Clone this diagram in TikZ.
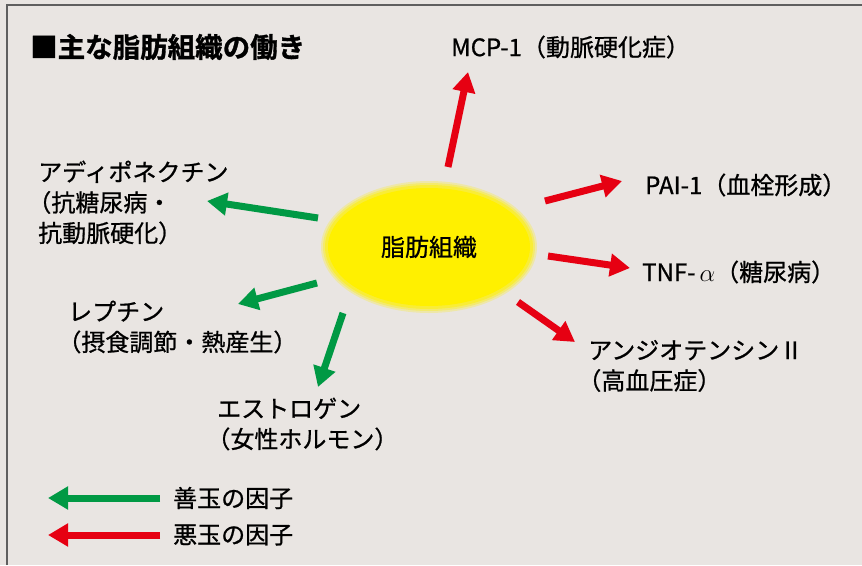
\documentclass[tikz,border=0pt]{standalone}
\usepackage{fontspec}
\setmainfont{Noto Sans CJK JP}[BoldFont={Noto Sans CJK JP Bold}]
\newfontfamily\lblfont{Noto Sans CJK JP}[FakeBold=0.8]
\newfontfamily\ttlfont{Noto Sans CJK JP Bold}[FakeBold=1.2]
\usetikzlibrary{arrows.meta,shapes.geometric}
\definecolor{bgc}{RGB}{233,229,226}
\definecolor{goodc}{RGB}{0,153,68}
\definecolor{badc}{RGB}{230,0,18}
\definecolor{fatc}{RGB}{255,240,0}
\definecolor{framec}{RGB}{95,95,95}
\tikzset{
  lbl/.style={anchor=west, align=left, inner sep=0pt, font=\lblfont\fontsize{24}{30.5}\selectfont},
  ttl/.style={anchor=west, inner sep=0pt, font=\ttlfont\fontsize{27.5}{30}\selectfont},
  goodarrow/.style={draw=goodc, line width=7pt, -{Triangle[length=20pt,width=22pt]}},
  badarrow/.style={draw=badc, line width=7pt, -{Triangle[length=20pt,width=22pt]}},
  fatnode/.style={ellipse, inner sep=0pt, minimum width=208pt, minimum height=124pt, font=\lblfont\fontsize{24}{30}\selectfont},
}
\begin{document}
\begin{tikzpicture}[x=1pt,y=-1pt]
\useasboundingbox (0,0) rectangle (862,565);
\fill[bgc] (0,0) rectangle (862,565);
\draw[framec, line width=2.5pt] (7,565) -- (7,5) -- (862,5);
% fat tissue ellipse with soft edge
\fill[fatc, opacity=0.25] (429,247) ellipse [x radius=108pt, y radius=66pt];
\fill[fatc, opacity=0.35] (429,247) ellipse [x radius=106pt, y radius=64pt];
\fill[fatc, opacity=0.5] (429,247) ellipse [x radius=104pt, y radius=62pt];
\fill[fatc] (429,247) ellipse [x radius=101pt, y radius=59pt];
\node[fatnode] (fat) at (429,247) {脂肪組織};
% title
\node[ttl] (title) at (30,47) {■主な脂肪組織の働き};
% labels
\node[lbl] (mcp) at (451,47) {MCP-1（動脈硬化症）};
\node[lbl] (pai) at (645,185) {PAI-1（血栓形成）};
\node[lbl] (tnf) at (642,272) {TNF-\,$\alpha$（糖尿病）};
\node[lbl] (ang) at (588,366) {アンジオテンシンⅡ\\\hspace{-0.45em}（高血圧症）};
\node[lbl] (adi) at (38,202.5) {アディポネクチン\\\hspace{-0.45em}（抗糖尿病・\\抗動脈硬化）};
\node[lbl] (lep) at (68,327) {レプチン\\\hspace{-0.45em}（摂食調節・熱産生）};
\node[lbl] (est) at (217,424) {エストロゲン\\\hspace{-0.45em}（女性ホルモン）};
% arrow end points
\coordinate (mcpT) at (448,167); \coordinate (mcpH) at (468,72);
\coordinate (paiT) at (545,201); \coordinate (paiH) at (622,181);
\coordinate (tnfT) at (548,256); \coordinate (tnfH) at (630,268);
\coordinate (angT) at (518,302); \coordinate (angH) at (575,342);
\coordinate (adiT) at (318,218); \coordinate (adiH) at (207,201);
\coordinate (lepT) at (317,283); \coordinate (lepH) at (238,304);
\coordinate (estT) at (343,313); \coordinate (estH) at (318,387);
\draw[badarrow] (mcpT) -- (mcpH);
\draw[badarrow] (paiT) -- (paiH);
\draw[badarrow] (tnfT) -- (tnfH);
\draw[badarrow] (angT) -- (angH);
\draw[goodarrow] (adiT) -- (adiH);
\draw[goodarrow] (lepT) -- (lepH);
\draw[goodarrow] (estT) -- (estH);
% legend
\coordinate (lgT) at (160,498); \coordinate (lgH) at (48,498);
\coordinate (lbT) at (160,535); \coordinate (lbH) at (48,535);
\draw[goodarrow] (lgT) -- (lgH);
\draw[badarrow] (lbT) -- (lbH);
\node[lbl] (lgood) at (173,498) {善玉の因子};
\node[lbl] (lbad) at (173,535) {悪玉の因子};
\end{tikzpicture}
\end{document}
